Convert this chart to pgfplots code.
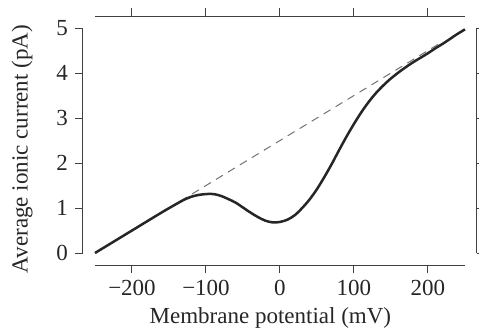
\documentclass[border=0pt]{standalone}
\usepackage{fontspec}
\setmainfont{Liberation Serif}
\usepackage{pgfplots}
\pgfplotsset{compat=1.18}
\begin{document}
\begin{tikzpicture}
\pgfplotsset{myax/.style={scale only axis, width=185pt, height=112.5pt,
  xmin=-250, xmax=250, ymin=0, ymax=5,
  separate axis lines,
  axis line style={-, line width=0.5pt, black!75},
  tick style={line width=0.5pt, black!75},
  tick align=outside, major tick length=4pt,
  xtick={-200,-100,0,100,200}, ytick={0,1,2,3,4,5},
  axis x line shift=6pt, axis y line shift=6pt,
  tick label style={font=\fontsize{11.5}{13}\selectfont, black!85},
  label style={font=\fontsize{11.5}{13}\selectfont, black!85},
}}
\begin{axis}[myax, axis x line*=bottom, axis y line*=left,
  xticklabels={−200,−100,0,100,200},
  yticklabels={0,1,2,3,4,5},
  xlabel={Membrane potential (mV)},
  ylabel={Average ionic current (pA)},
  xlabel style={at={(axis description cs:0.474,-0.289)}, anchor=center},
  ylabel style={at={(axis description cs:-0.197,0.462)}, anchor=center, rotate=0},
  clip=false]
\coordinate (bl) at (rel axis cs:0,0);
\addplot[black!55, line width=0.5pt, dash pattern=on 4pt off 3pt] coordinates {(-135,1.15) (215,4.65)};
\addplot[black!85, line width=1.25pt, smooth, tension=0.5] coordinates {
(-250,0) (-200,0.5) (-160,0.9) (-140,1.09) (-130,1.18) (-120,1.25) (-110,1.29)
(-100,1.31) (-90,1.31) (-80,1.27) (-70,1.20) (-60,1.12) (-50,1.01) (-40,0.90)
(-30,0.80) (-20,0.72) (-10,0.68) (0,0.69) (10,0.74) (20,0.84) (30,1.00)
(40,1.19) (50,1.42) (60,1.69) (70,1.98) (80,2.29) (90,2.59) (100,2.87)
(110,3.13) (120,3.36) (130,3.56) (140,3.73) (150,3.88) (160,4.01) (170,4.13)
(180,4.24) (190,4.34) (200,4.44) (210,4.55) (220,4.65) (230,4.76) (240,4.87) (250,4.97)};
\end{axis}
\begin{axis}[myax, axis x line*=top, axis y line*=right,
  xticklabels={}, yticklabels={}]
\end{axis}
\pgfresetboundingbox
\path[use as bounding box] ([shift={(-47.5pt,-40pt)}]bl) rectangle ([shift={(192pt,126.5pt)}]bl);
\end{tikzpicture}
\end{document}
